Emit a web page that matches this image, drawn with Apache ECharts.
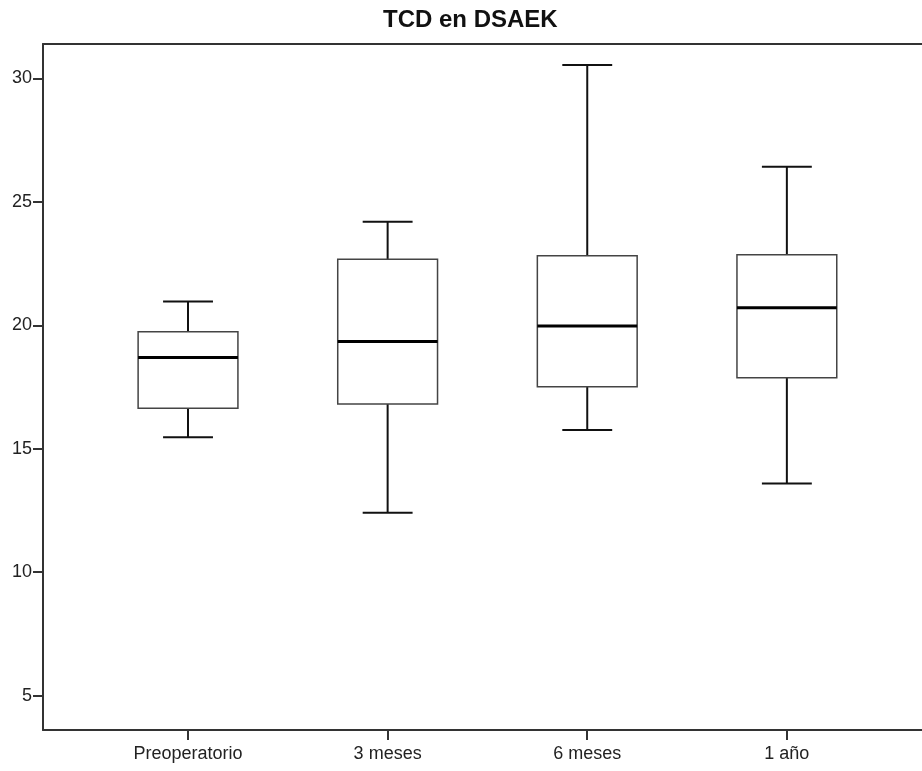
<!DOCTYPE html>
<html>
<head>
<meta charset="utf-8">
<script src="https://cdn.jsdelivr.net/npm/echarts@6/dist/echarts.min.js"></script>
<style>
  html, body { margin: 0; padding: 0; background: #fff; }
  #chart { width: 922px; height: 771px; }
</style>
</head>
<body>
<div id="chart"></div>
<script>
// box plot values
const categories = ['Preoperatorio', '3 meses', '6 meses', '1 año']
const mins = [15.47, 12.41, 15.76, 13.59]
const q1s = [16.64, 16.81, 17.51, 17.87]
const medians = [18.69, 19.34, 19.97, 20.71]
const q3s = [19.74, 22.67, 22.82, 22.86]
const maxs = [20.96, 24.19, 30.54, 26.42]
const yTicks = [5, 10, 15, 20, 25, 30]

let chart = echarts.init(document.getElementById('chart'))

let boxData = categories.map((c, i) => [i, mins[i], q1s[i], medians[i], q3s[i], maxs[i]])

function renderBox(params, api) {
  let x = api.value(0)
  let unit = api.size([1, 0])[0]
  let boxW = unit * 0.5
  let capW = boxW * 0.5
  let pMin = api.coord([x, api.value(1)])
  let pQ1 = api.coord([x, api.value(2)])
  let pMed = api.coord([x, api.value(3)])
  let pQ3 = api.coord([x, api.value(4)])
  let pMax = api.coord([x, api.value(5)])
  let cx = pMin[0]
  let dark = { stroke: '#111', lineWidth: 2 }
  return {
    type: 'group',
    children: [
      { type: 'line', shape: { x1: cx, y1: pQ3[1], x2: cx, y2: pMax[1] }, style: dark },
      { type: 'line', shape: { x1: cx, y1: pMin[1], x2: cx, y2: pQ1[1] }, style: dark },
      { type: 'line', shape: { x1: cx - capW / 2, y1: pMax[1], x2: cx + capW / 2, y2: pMax[1] }, style: dark },
      { type: 'line', shape: { x1: cx - capW / 2, y1: pMin[1], x2: cx + capW / 2, y2: pMin[1] }, style: dark },
      {
        type: 'rect',
        shape: { x: cx - boxW / 2, y: pQ3[1], width: boxW, height: pQ1[1] - pQ3[1] },
        style: { fill: '#fff', stroke: '#444', lineWidth: 1.5 }
      },
      { type: 'line', shape: { x1: cx - boxW / 2, y1: pMed[1], x2: cx + boxW / 2, y2: pMed[1] }, style: { stroke: '#000', lineWidth: 3 } }
    ]
  }
}

let frameLine = { show: true, onZero: false, lineStyle: { color: '#333', width: 2 } }

option = {
  animation: false,
  title: {
    text: 'TCD en DSAEK',
    left: 378,
    top: 3,
    textStyle: { fontFamily: 'Liberation Sans', fontWeight: 'bold', fontSize: 24, color: '#111' }
  },
  grid: {
    left: 43,
    right: 0,
    top: 44,
    bottom: 41
  },
  xAxis: [
    {
      type: 'value',
      position: 'bottom',
      min: -0.7265,
      max: 3.677,
      splitLine: { show: false },
      axisLine: frameLine,
      axisTick: {
        show: true,
        customValues: [0, 1, 2, 3],
        length: 10,
        lineStyle: { color: '#333', width: 2 }
      },
      axisLabel: {
        customValues: [0, 1, 2, 3],
        formatter: v => categories[Math.round(v)],
        margin: 15,
        fontFamily: 'Liberation Sans',
        fontSize: 18,
        color: '#222'
      }
    },
    {
      // top edge of the frame only
      type: 'value',
      position: 'top',
      min: -0.7265,
      max: 3.677,
      splitLine: { show: false },
      axisLine: frameLine,
      axisTick: { show: false },
      axisLabel: { show: false }
    }
  ],
  yAxis: {
    type: 'value',
    min: 3.61,
    max: 31.39,
    splitLine: { show: false },
    axisLine: frameLine,
    axisTick: {
      show: true,
      customValues: yTicks,
      length: 10,
      lineStyle: { color: '#333', width: 2 }
    },
    axisLabel: {
      customValues: yTicks,
      margin: 11,
      fontFamily: 'Liberation Sans',
      fontSize: 18,
      color: '#222'
    }
  },
  series: [
    {
      type: 'custom',
      renderItem: renderBox,
      encode: { x: 0, y: [1, 2, 3, 4, 5] },
      data: boxData
    }
  ]
}

chart.setOption(option)
</script>
</body>
</html>
